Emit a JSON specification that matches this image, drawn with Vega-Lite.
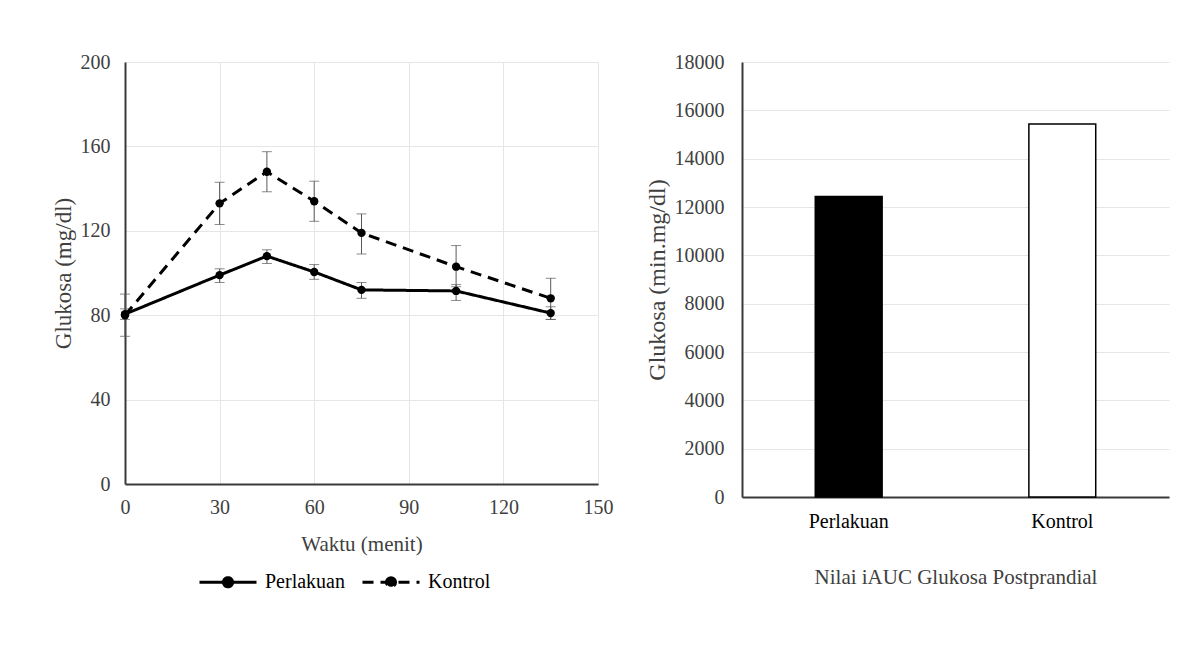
{
  "$schema": "https://vega.github.io/schema/vega-lite/v6.json",
  "background": "white",
  "padding": {"left": 52, "top": 52, "right": 10, "bottom": 10},
  "spacing": 32,
  "config": {
    "font": "Liberation Serif",
    "view": {"stroke": null},
    "axis": {
      "labelFont": "Liberation Serif",
      "titleFont": "Liberation Serif",
      "labelFontSize": 20,
      "titleFontSize": 21,
      "titleFontWeight": "normal",
      "labelColor": "#404040",
      "titleColor": "#404040",
      "ticks": false,
      "gridColor": "#e6e6e6",
      "gridWidth": 1,
      "domainColor": "#3a3a3a",
      "domainWidth": 2
    },
    "legend": {
      "labelFont": "Liberation Serif",
      "labelFontSize": 20,
      "labelColor": "#000000",
      "padding": 0
    }
  },
  "datasets": {
    "kurva": [
      {"waktu": 0, "grup": "Perlakuan", "glukosa": 80.5, "lo": 78, "hi": 83},
      {"waktu": 30, "grup": "Perlakuan", "glukosa": 99, "lo": 95.5, "hi": 102},
      {"waktu": 45, "grup": "Perlakuan", "glukosa": 108, "lo": 104.5, "hi": 111},
      {"waktu": 60, "grup": "Perlakuan", "glukosa": 100.5, "lo": 97, "hi": 104},
      {"waktu": 75, "grup": "Perlakuan", "glukosa": 92, "lo": 88, "hi": 95.5},
      {"waktu": 105, "grup": "Perlakuan", "glukosa": 91.5, "lo": 87, "hi": 94.5},
      {"waktu": 135, "grup": "Perlakuan", "glukosa": 81, "lo": 78, "hi": 84},
      {"waktu": 0, "grup": "Kontrol", "glukosa": 80, "lo": 70, "hi": 90},
      {"waktu": 30, "grup": "Kontrol", "glukosa": 133, "lo": 123, "hi": 143},
      {"waktu": 45, "grup": "Kontrol", "glukosa": 148, "lo": 138.5, "hi": 157.5},
      {"waktu": 60, "grup": "Kontrol", "glukosa": 134, "lo": 124.5, "hi": 143.5},
      {"waktu": 75, "grup": "Kontrol", "glukosa": 119, "lo": 109, "hi": 128},
      {"waktu": 105, "grup": "Kontrol", "glukosa": 103, "lo": 93.5, "hi": 113},
      {"waktu": 135, "grup": "Kontrol", "glukosa": 88, "lo": 78, "hi": 97.5}
    ],
    "auc": [
      {"grup": "Perlakuan", "iauc": 12430},
      {"grup": "Kontrol", "iauc": 15430}
    ]
  },
  "resolve": {"scale": {"strokeDash": "independent", "fill": "independent"}, "legend": {"strokeDash": "independent", "fill": "independent"}},
  "hconcat": [
    {
      "width": 473,
      "height": 422,
      "data": {"name": "kurva"},
      "encoding": {
        "x": {
          "field": "waktu", "type": "quantitative",
          "scale": {"domain": [0, 150], "nice": false},
          "axis": {"values": [0, 30, 60, 90, 120, 150], "title": "Waktu (menit)", "labelPadding": 13, "titlePadding": 16, "grid": true, "labelFlush": false}
        }
      },
      "layer": [
        {
          "mark": {"type": "rule", "color": "#595959", "strokeWidth": 1},
          "encoding": {
            "y": {"field": "lo", "type": "quantitative", "scale": {"domain": [0, 200], "nice": false},
              "axis": {"values": [0, 40, 80, 120, 160, 200], "title": "Glukosa (mg/dl)", "titleFontSize": 23, "labelPadding": 15, "titlePadding": 5, "grid": true}},
            "y2": {"field": "hi"}
          }
        },
        {
          "mark": {"type": "tick", "orient": "horizontal", "color": "#595959", "size": 10, "thickness": 1},
          "encoding": {"y": {"field": "lo", "type": "quantitative"}}
        },
        {
          "mark": {"type": "tick", "orient": "horizontal", "color": "#595959", "size": 10, "thickness": 1},
          "encoding": {"y": {"field": "hi", "type": "quantitative"}}
        },
        {
          "mark": {"type": "line", "color": "black", "strokeWidth": 3},
          "encoding": {
            "y": {"field": "glukosa", "type": "quantitative"},
            "strokeDash": {
              "field": "grup", "type": "nominal",
              "scale": {"domain": ["Perlakuan", "Kontrol"], "range": [[1, 0], [11, 7]]},
              "legend": {
                "title": null, "orient": "none", "legendX": 73, "legendY": 490, "direction": "horizontal",
                "symbolType": "M-1,0H1M0,-0.16A0.16,0.16,0,1,1,0,0.16A0.16,0.16,0,1,1,0,-0.16Z",
                "symbolSize": 3249, "symbolStrokeWidth": 3, "symbolStrokeColor": "black", "symbolFillColor": "black",
                "symbolOpacity": 1, "columnPadding": 11, "labelOffset": 7
              }
            }
          }
        },
        {
          "mark": {"type": "point", "filled": true, "color": "black", "size": 70, "opacity": 1},
          "encoding": {"y": {"field": "glukosa", "type": "quantitative"}}
        }
      ]
    },
    {
      "width": 427,
      "height": 435,
      "data": {"name": "auc"},
      "mark": {"type": "bar", "stroke": "black", "strokeWidth": 1.5},
      "encoding": {
        "x": {
          "field": "grup", "type": "nominal", "sort": ["Perlakuan", "Kontrol"],
          "scale": {"paddingInner": 0.687, "paddingOuter": 0.343},
          "axis": {"labelAngle": 0, "title": "Nilai iAUC Glukosa Postprandial", "labelPadding": 14, "titlePadding": 35, "labelColor": "#000000"}
        },
        "y": {
          "field": "iauc", "type": "quantitative",
          "scale": {"domain": [0, 18000], "nice": false},
          "axis": {"values": [0, 2000, 4000, 6000, 8000, 10000, 12000, 14000, 16000, 18000], "title": "Glukosa (min.mg/dl)", "titleFontSize": 24, "labelPadding": 18, "titlePadding": 5, "grid": true, "format": "d"}
        },
        "fill": {
          "field": "grup", "type": "nominal",
          "scale": {"domain": ["Perlakuan", "Kontrol"], "range": ["black", "white"]},
          "legend": null
        }
      }
    }
  ]
}
